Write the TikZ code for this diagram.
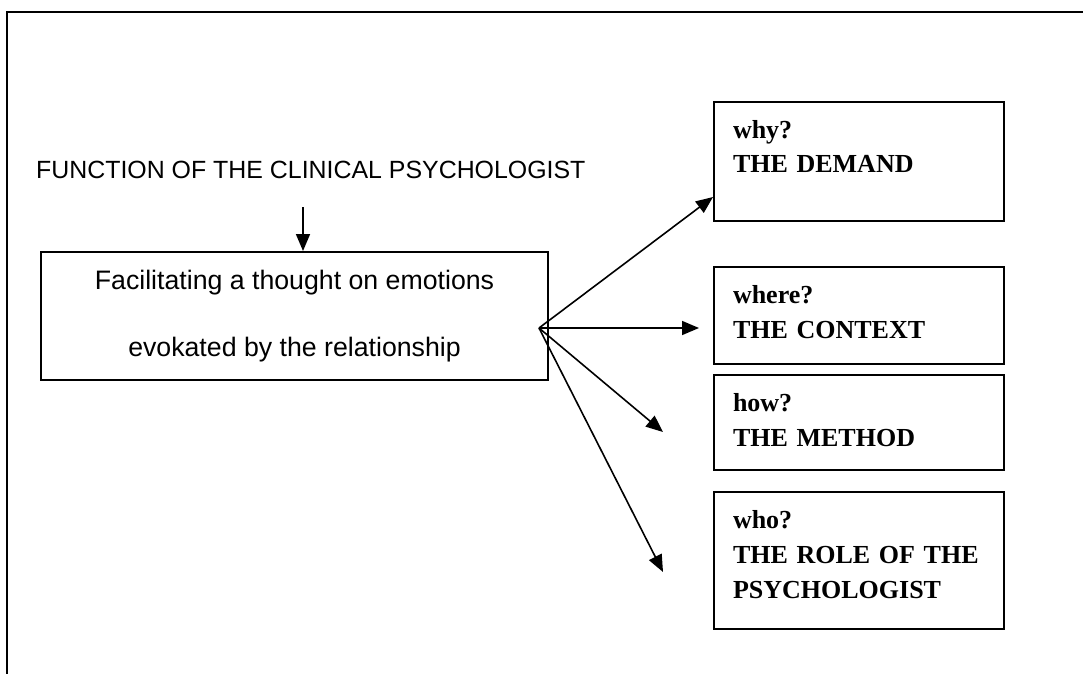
\documentclass[tikz,border=0pt]{standalone}
\usepackage{fontspec}
\setmainfont{Liberation Serif}
\newfontfamily\arialfont{Liberation Sans}
\usepackage{tikz}
\usetikzlibrary{arrows.meta,positioning}

\begin{document}
\begin{tikzpicture}[x=1pt,y=-1pt,
    arr/.style={line width=1.6pt,-{Triangle[length=17pt,width=14pt]}},
    qbox/.style={draw,line width=2pt,anchor=north west,align=left,
          text width=252pt,inner xsep=19pt,inner ysep=18pt,text height=18pt,
          font=\bfseries\fontsize{26}{35}\selectfont}]
    \useasboundingbox (0,0) rectangle (1083,674);
    % open frame (top and left only)
    \draw[line width=2.6pt] (1083,12) -- (7,12) -- (7,674);

    \node[anchor=base west,inner sep=0pt,font=\arialfont\fontsize{24.9}{30}\selectfont]
      (title) at (36,178) {FUNCTION OF THE CLINICAL PSYCHOLOGIST};
    \node[draw,line width=2pt,minimum width=507pt,minimum height=128pt,
          align=center,font=\arialfont\fontsize{26.7}{67}\selectfont]
      (task) at (294.5,316) {Facilitating a thought on emotions\\evokated by the relationship};

    \node[qbox,text depth=65pt] (demand)  at (713,101) {why?\\THE DEMAND};
    \node[qbox,text depth=43pt] (context) at (713,266) {where?\\THE CONTEXT};
    \node[qbox,text depth=41pt] (method)  at (713,374) {how?\\THE METHOD};
    \node[qbox,text depth=83pt] (role)    at (713,491) {who?\\THE ROLE OF THE\\PSYCHOLOGIST};

    \coordinate (drop) at (303,207);
    \coordinate (fan) at (539,328);
    \coordinate (toContext) at (699,328);
    \coordinate (toMethod) at (663,432);
    \coordinate (toRole) at (663,572);

    \draw[arr] (drop) -- (drop |- task.north);
    \draw[arr] (fan) -- ([yshift=25pt]demand.south west);
    \draw[arr] (fan) -- (toContext);
    \draw[arr] (fan) -- (toMethod);
    \draw[arr] (fan) -- (toRole);
\end{tikzpicture}
\end{document}
